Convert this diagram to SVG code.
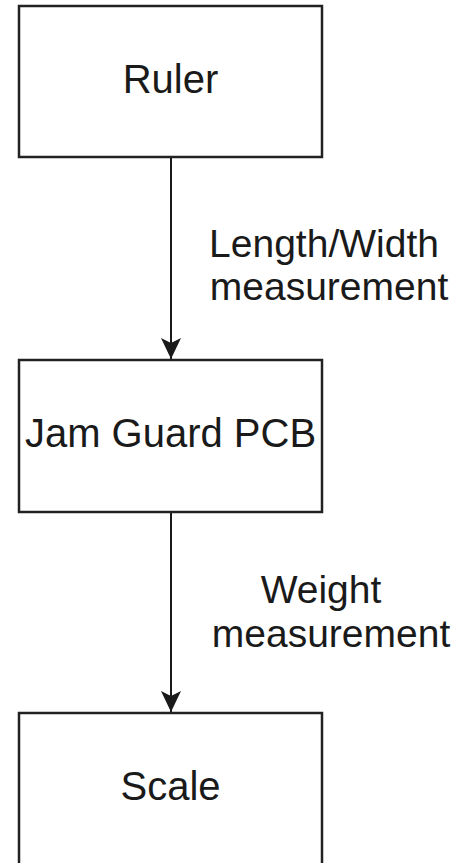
<svg xmlns="http://www.w3.org/2000/svg" width="453" height="863" viewBox="0 0 453 863">
  <style>
    .box { fill: #ffffff; stroke: #222222; stroke-width: 2.5; }
    .name { font-family: "Liberation Sans", Arial, sans-serif; font-size: 40px; fill: #1a1a1a; text-anchor: middle; }
    .lbl { font-family: "Liberation Sans", Arial, sans-serif; font-size: 39px; fill: #1a1a1a; text-anchor: middle; }
    .edge { stroke: #1a1a1a; stroke-width: 2; fill: none; }
  </style>
  <defs>
    <marker id="arrow" markerUnits="userSpaceOnUse" markerWidth="24" markerHeight="24" refX="22" refY="11" orient="auto">
      <path d="M22,11 L1,1 L6,11 L1,21 Z" fill="#1a1a1a"/>
    </marker>
  </defs>
  <rect width="453" height="863" fill="#ffffff"/>

  <g id="connectors">
    <g id="edge-ruler-pcb">
      <line class="edge" x1="171" y1="157" x2="171" y2="359" marker-end="url(#arrow)"/>
      <text class="lbl" x="324" y="257">Length/Width</text>
      <text class="lbl" x="329" y="300">measurement</text>
    </g>
    <g id="edge-pcb-scale">
      <line class="edge" x1="171" y1="512" x2="171" y2="712" marker-end="url(#arrow)"/>
      <text class="lbl" x="321" y="603">Weight</text>
      <text class="lbl" x="331" y="647">measurement</text>
    </g>
  </g>

  <g id="ruler">
    <rect class="box" x="19" y="6" width="303" height="151"/>
    <text class="name" x="170.5" y="93">Ruler</text>
  </g>
  <g id="jam-guard-pcb">
    <rect class="box" x="19" y="360" width="303" height="152"/>
    <text class="name" x="170.5" y="447">Jam Guard PCB</text>
  </g>
  <g id="scale">
    <rect class="box" x="19" y="713" width="303" height="152"/>
    <text class="name" x="170.5" y="800">Scale</text>
  </g>
</svg>
